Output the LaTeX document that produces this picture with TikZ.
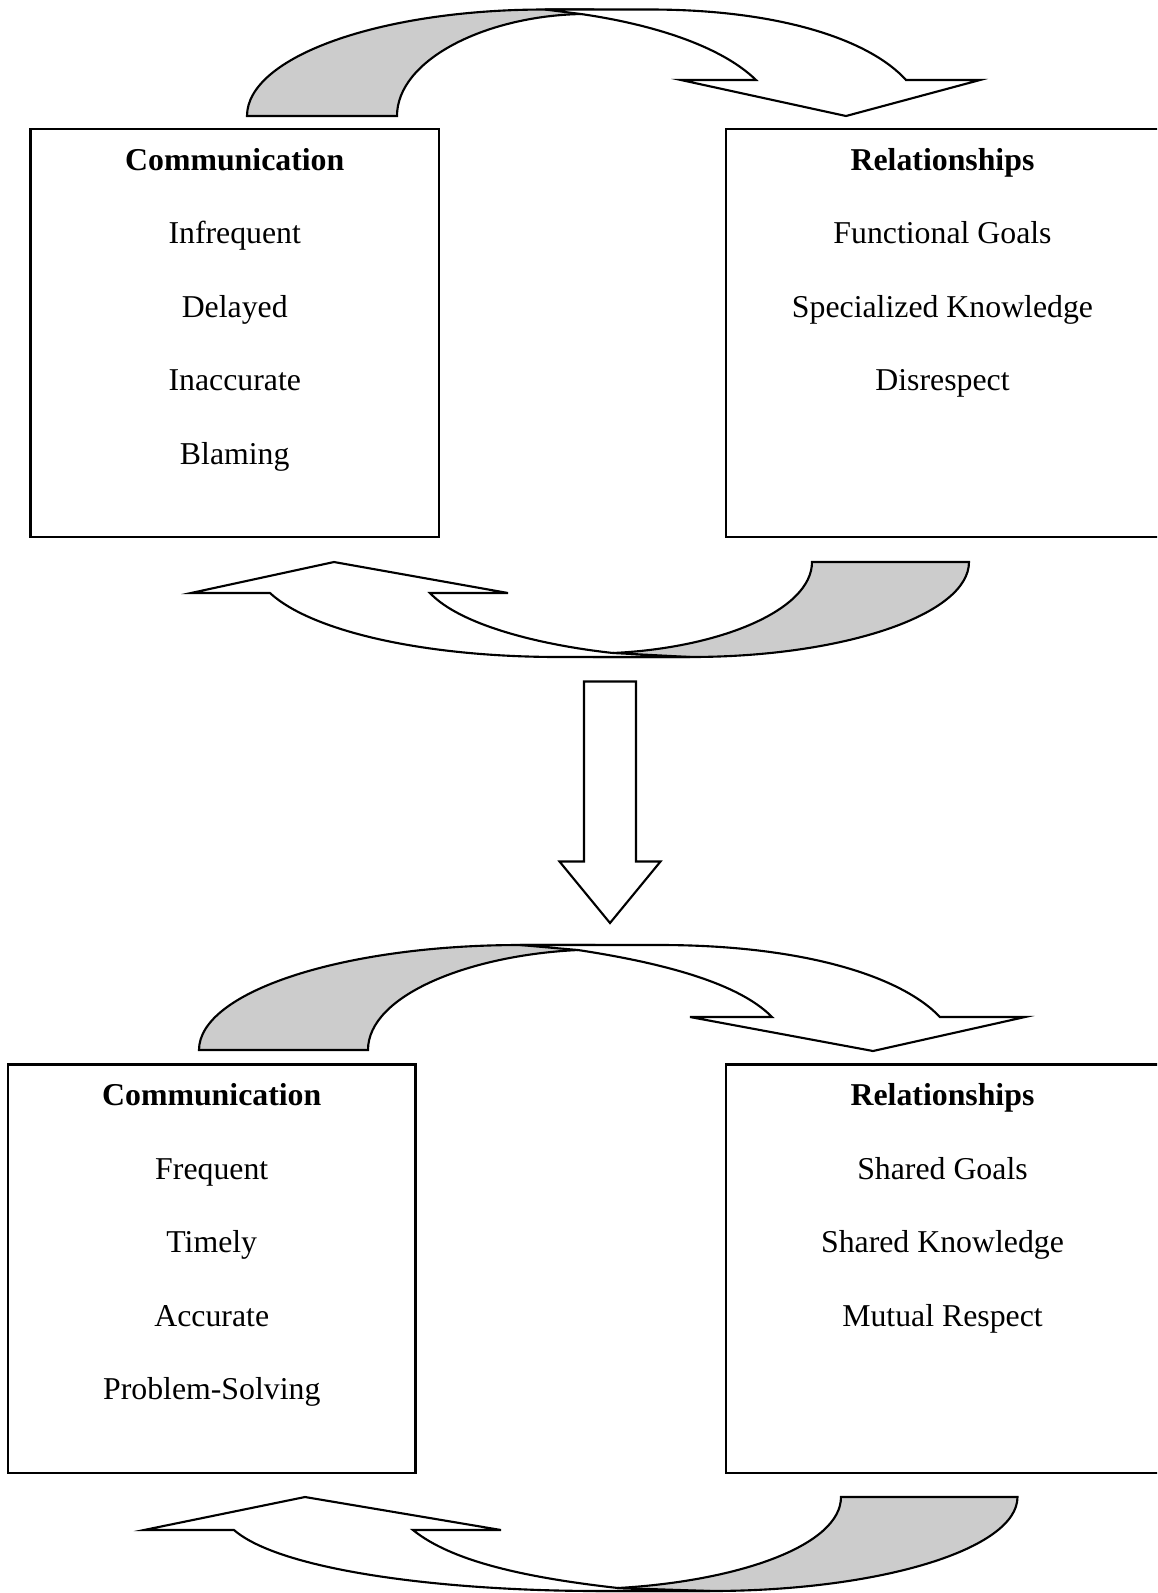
\documentclass[tikz,border=0pt]{standalone}
\usepackage{fontspec}
\setmainfont{Liberation Serif}
\usetikzlibrary{fit}
\begin{document}
\begin{tikzpicture}[x=0.3774pt,y=-0.3774pt,line width=0.8pt,
        box/.style={draw,inner sep=0pt,outer sep=0pt},
        item/.style={anchor=base,font=\fontsize{12}{14}\selectfont},
        head/.style={anchor=base,font=\fontsize{12}{14}\selectfont\bfseries},
        tail/.style={draw,fill=black!20},
        band/.style={draw,fill=white}]
    \useasboundingbox (0,0) rectangle (1157,1593);
    \clip (0,0) rectangle (1157,1593);
    \node[box,fit={(30.5,129) (439,537)}](comm1){};
    \node[head] at([yshift=-15.47pt]comm1.north)(comm1-0){Communication};
    \foreach \t[count=\i,evaluate=\i as \j using int(\i-1)] in {Infrequent,Delayed,Inaccurate,Blaming}
        \node[item] at([yshift=-27.78pt]comm1-\j.base)(comm1-\i){\t};
    \node[box,fit={(726,129) (1159,537)}](rel1){};
    \node[head] at([yshift=-15.47pt]rel1.north)(rel1-0){Relationships};
    \foreach \t[count=\i,evaluate=\i as \j using int(\i-1)] in {Functional Goals,Specialized Knowledge,Disrespect}
        \node[item] at([yshift=-27.78pt]rel1-\j.base)(rel1-\i){\t};
    \node[box,fit={(8,1064.5) (415.5,1473)}](comm2){};
    \node[head] at([yshift=-15.47pt]comm2.north)(comm2-0){Communication};
    \foreach \t[count=\i,evaluate=\i as \j using int(\i-1)] in {Frequent,Timely,Accurate,Problem-Solving}
        \node[item] at([yshift=-27.78pt]comm2-\j.base)(comm2-\i){\t};
    \node[box,fit={(726,1064.5) (1159,1473)}](rel2){};
    \node[head] at([yshift=-15.47pt]rel2.north)(rel2-0){Relationships};
    \foreach \t[count=\i,evaluate=\i as \j using int(\i-1)] in {Shared Goals,Shared Knowledge,Mutual Respect}
        \node[item] at([yshift=-27.78pt]rel2-\j.base)(rel2-\i){\t};
    \draw[tail] (247,116) .. controls (247,57) and (380,9.5) .. (545,9.5) -- (590,9.5) -- (581,14) .. controls (485,16) and (397,60) .. (397,116) -- cycle;
    \draw[band] (545,9.5) -- (650,9.5) .. controls (780,9.5) and (870,40) .. (906,80) -- (980,80) -- (846,116) -- (681,80) -- (756,80) .. controls (720,45) and (650,24) .. (581,14) -- cycle;
    \draw[tail] (969,562) .. controls (969,614.5) and (844,657) .. (690,657) -- (600,657) -- (613,653) .. controls (720,648) and (812,610) .. (812,562) -- cycle;
    \draw[band] (690,657) -- (560,657) .. controls (420,657) and (310,630) .. (270,593) -- (191,593) -- (334,562) -- (508,593) -- (430,593) .. controls (460,625) and (540,645) .. (613,653) -- cycle;
    \draw (584,681.5) -- (636,681.5) -- (636,861.5) -- (660.5,861.5) -- (610,923) -- (559.5,861.5) -- (584,861.5) -- cycle;
    \draw[tail] (199,1050) .. controls (199,992) and (343,945) .. (520,945) -- (590,945) -- (578,950) .. controls (470,955) and (368,995) .. (368,1050) -- cycle;
    \draw[band] (520,945) -- (660,945) .. controls (800,945) and (900,975) .. (940,1017) -- (1025,1017) -- (873,1051) -- (690,1017) -- (772,1017) .. controls (736,980) and (650,961) .. (578,950) -- cycle;
    \draw[tail] (1017.5,1497) .. controls (1017.5,1549) and (880,1591) .. (710,1591) -- (605,1591) -- (618,1588) .. controls (740,1581) and (841,1545) .. (841,1497) -- cycle;
    \draw[band] (710,1591) -- (600,1591) .. controls (440,1591) and (280,1570) .. (234,1530) -- (144,1530) -- (305,1497) -- (501,1530) -- (413,1530) .. controls (450,1560) and (520,1577) .. (618,1588) -- cycle;
\end{tikzpicture}
\end{document}
